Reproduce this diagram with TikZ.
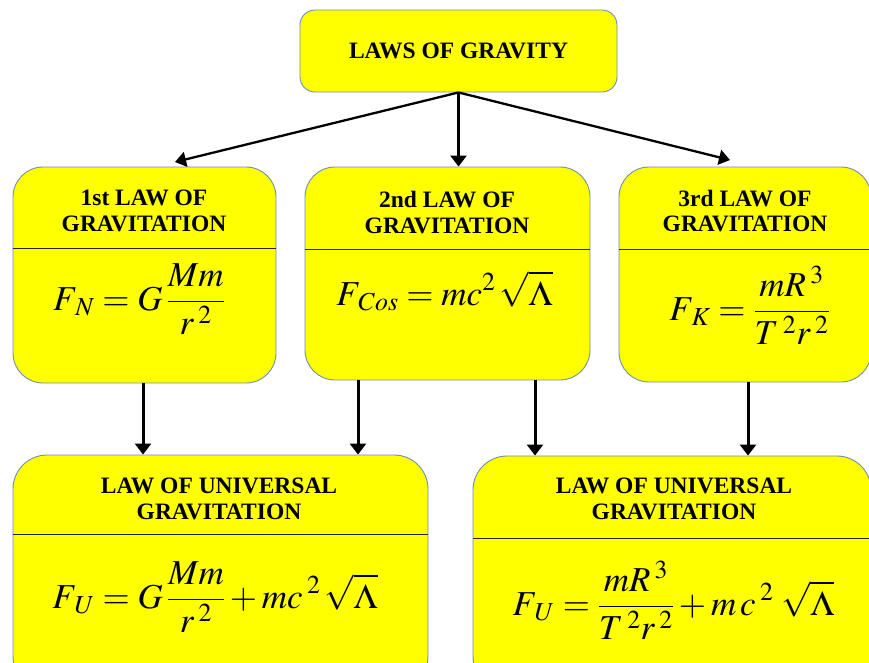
\documentclass[tikz,border=0pt]{standalone}
\usepackage{mathptmx}
\usepackage{fontspec}
\setmainfont{Liberation Serif}
\usetikzlibrary{arrows.meta}
\definecolor{boxfill}{HTML}{FFFF00}
\definecolor{boxline}{HTML}{6F8FB5}
\newcommand{\sk}{\mkern3mu}
\begin{document}
\begin{tikzpicture}[x=1pt,y=-1pt,
  box/.style={draw=boxline, line width=0.9pt, fill=boxfill, rounded corners=#1, inner sep=0pt},
  head/.style={font=\fontsize{23.5}{25.5}\selectfont\bfseries, align=center, inner sep=0pt},
  formula/.style={font=\fontsize{35}{40}\selectfont, inner sep=0pt, anchor=base},
  divider/.style={line width=0.8pt, black!85},
  arr/.style={line width=3pt, -{Triangle[width=16pt,length=11pt]}},
  darr/.style={line width=2.3pt, -{Triangle[width=15pt,length=11pt]}}]
\useasboundingbox (0,0) rectangle (869,662);
% boxes
\node[box=15pt, minimum width=317pt, minimum height=82pt, font=\fontsize{23.5}{25.5}\selectfont\bfseries] (top) at (458.5,51) {LAWS OF GRAVITY};
\node[box=30pt, minimum width=263pt, minimum height=216pt] (b1) at (144.5,275) {};
\node[box=30pt, minimum width=285pt, minimum height=213pt] (b2) at (447.5,273.5) {};
\node[box=30pt, minimum width=252pt, minimum height=215pt] (b3) at (745,274.5) {};
\node[box=34pt, minimum width=415pt, minimum height=235pt] (u1) at (220.5,572.5) {};
\node[box=34pt, minimum width=398pt, minimum height=234pt] (u2) at (672,573) {};
% dividers
\draw[divider] (b1.west |- 0,248) -- (b1.east |- 0,248);
\draw[divider] (b2.west |- 0,249) -- (b2.east |- 0,249);
\draw[divider] (b3.west |- 0,249) -- (b3.east |- 0,249);
\draw[divider] (u1.west |- 0,534) -- (u1.east |- 0,534);
\draw[divider] (u2.west |- 0,538) -- (u2.east |- 0,538);
% headings
\node[head] (h1) at (144,211) {1st LAW OF\\GRAVITATION};
\node[head] (h2) at (447,212.5) {2nd LAW OF\\GRAVITATION};
\node[head] (h3) at (745,211) {3rd LAW OF\\GRAVITATION};
\node[head] (h4) at (219,499) {LAW OF UNIVERSAL\\GRAVITATION};
\node[head] (h5) at (674,499) {LAW OF UNIVERSAL\\GRAVITATION};
% formulas
\node[formula] (f1) at (139,310) {$\displaystyle F_{\sk N} = G\,\frac{Mm}{r^{\sk 2}}$};
\node[formula] (f2) at (444.5,305) {$\displaystyle F_{\sk Cos} = mc^{2}\,\sqrt{\Lambda}$};
\node[formula] (f3) at (749.5,320) {$\displaystyle F_{\sk K} = \frac{mR^{\sk 3}}{T^{\sk 2}r^{\sk 2}}$};
\node[formula] (f4) at (215,608) {$\displaystyle F_{\sk U} = G\,\frac{Mm}{r^{\sk 2}} + mc^{\sk 2}\,\sqrt{\Lambda}$};
\node[formula] (f5) at (673.5,615) {$\displaystyle F_{\sk U} = \frac{mR^{\sk 3}}{T^{\sk 2}r^{\sk 2}} + m\,c^{\sk 2}\;\sqrt{\Lambda}$};
% connector end points
\coordinate (e1) at (175,162);
\coordinate (e3) at (730,160);
\coordinate (a1) at (143,0);
\coordinate (a2) at (358,0);
\coordinate (a3) at (535,0);
\coordinate (a4) at (748,0);
% connectors
\draw[darr] (top.south) -- (e1);
\draw[arr] (top.south) -- (top.south |- b2.north);
\draw[darr] (top.south) -- (e3);
\draw[arr] (b1.south -| a1) -- (u1.north -| a1);
\draw[arr] (b2.south -| a2) -- (u1.north -| a2);
\draw[arr] (b2.south -| a3) -- (u2.north -| a3);
\draw[arr] (b3.south -| a4) -- (u2.north -| a4);
\end{tikzpicture}
\end{document}
